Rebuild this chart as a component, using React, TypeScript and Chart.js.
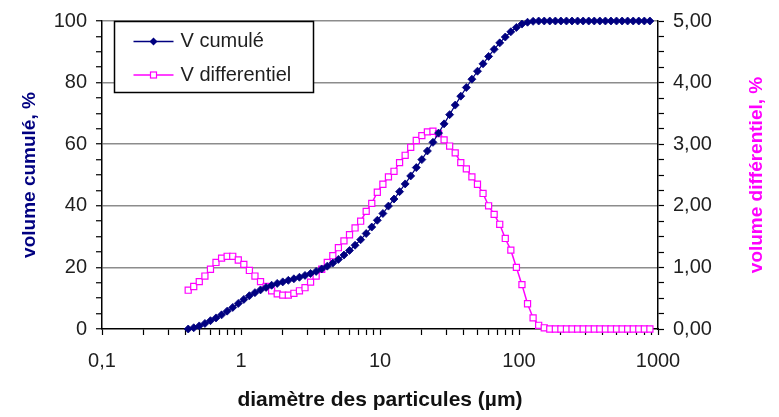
import { useEffect, useRef } from 'react';
import { Chart, registerables } from 'chart.js';

Chart.register(...registerables);

// particle diameters (µm)
const sizes = [
  0.417, 0.457, 0.501, 0.55, 0.603, 0.661, 0.725, 0.795, 0.872, 0.956,
  1.048, 1.149, 1.26, 1.382, 1.515, 1.661, 1.822, 1.997, 2.19, 2.402,
  2.633, 2.888, 3.166, 3.472, 3.807, 4.175, 4.577, 5.019, 5.504, 6.035,
  6.617, 7.256, 7.956, 8.724, 9.566, 10.49, 11.5, 12.61, 13.83, 15.17,
  16.63, 18.24, 20.0, 21.93, 24.04, 26.37, 28.91, 31.7, 34.76, 38.12,
  41.8, 45.83, 50.26, 55.11, 60.43, 66.26, 72.66, 79.67, 87.36, 95.79,
  105.0, 115.2, 126.3, 138.5, 151.9, 166.5, 182.6, 200.2, 219.5, 240.7,
  264.0, 289.4, 317.4, 348.0, 381.6, 418.4, 458.8, 503.1, 551.7, 604.9,
  663.3, 727.3, 797.5, 874.5,
];

// V cumulé (%)
const cumulative = [
  0, 0.4, 1.0, 1.8, 2.7, 3.6, 4.6, 5.8, 7.0, 8.3,
  9.6, 10.8, 11.8, 12.7, 13.5, 14.2, 14.8, 15.3, 15.8, 16.3,
  16.8, 17.4, 18.0, 18.7, 19.5, 20.4, 21.4, 22.6, 24.0, 25.5,
  27.2, 29.0, 31.0, 33.1, 35.3, 37.5, 39.9, 42.2, 44.6, 47.1,
  49.7, 52.4, 55.0, 57.8, 60.6, 63.6, 66.6, 69.6, 72.7, 75.6,
  78.4, 81.1, 83.7, 86.1, 88.5, 90.8, 92.9, 94.8, 96.5, 97.9,
  99.0, 99.6, 99.9, 100, 100, 100, 100, 100, 100, 100,
  100, 100, 100, 100, 100, 100, 100, 100, 100, 100,
  100, 100, 100, 100,
];

// V differentiel (%)
const differential = [
  0.63, 0.69, 0.77, 0.86, 0.97, 1.08, 1.15, 1.18, 1.18, 1.12,
  1.05, 0.95, 0.86, 0.77, 0.69, 0.62, 0.57, 0.55, 0.55, 0.58,
  0.62, 0.67, 0.76, 0.86, 0.97, 1.08, 1.19, 1.32, 1.43, 1.53,
  1.64, 1.75, 1.91, 2.04, 2.22, 2.35, 2.47, 2.56, 2.7, 2.82,
  2.95, 3.06, 3.14, 3.2, 3.21, 3.17, 3.07, 2.97, 2.86, 2.7,
  2.6, 2.47, 2.35, 2.2, 2.0, 1.86, 1.7, 1.47, 1.28, 1.0,
  0.72, 0.41, 0.18, 0.06, 0.02, 0, 0, 0, 0, 0,
  0, 0, 0, 0, 0, 0, 0, 0, 0, 0,
  0, 0, 0, 0,
];

const decadeValues = [0.1, 1, 10, 100, 1000];
const decadeLabels = ['0,1', '1', '10', '100', '1000'];
const seriesNames = ['V cumulé', 'V differentiel'];
const rightTitle = 'volume différentiel, %';

const NAVY = '#000080';
const MAGENTA = '#ff00ff';
const FONT = '"Liberation Sans", Arial, sans-serif';
const TICK_COLOR = '#1f1f1f';

function buildLogTicks() {
  const out: { value: number; major: boolean }[] = [];
  for (let d = 0; d < decadeValues.length - 1; d++) {
    for (let m = 1; m <= 9; m++) {
      out.push({ value: Number((decadeValues[d] * m).toPrecision(6)), major: m === 1 });
    }
  }
  out.push({ value: decadeValues[decadeValues.length - 1], major: true });
  return out;
}

function decadeLabel(v: number) {
  for (let i = 0; i < decadeValues.length; i++) {
    if (Math.abs(v - decadeValues[i]) < 1e-9 * Math.max(1, decadeValues[i])) return decadeLabels[i];
  }
  return '';
}

const legendPlugin = {
  id: 'boxLegend',
  afterDraw(chart: any) {
    const { ctx, chartArea } = chart;
    const bx = chartArea.left + 12.5;
    const by = chartArea.top + 0.5;
    const bw = 199;
    const bh = 71;
    ctx.save();
    ctx.fillStyle = '#ffffff';
    ctx.fillRect(bx, by, bw, bh);
    ctx.strokeStyle = '#000';
    ctx.lineWidth = 1.5;
    ctx.strokeRect(bx, by, bw, bh);

    const rows = [
      { y: by + 20, color: NAVY, kind: 'diamond', text: seriesNames[0] },
      { y: by + 53.5, color: MAGENTA, kind: 'square', text: seriesNames[1] },
    ];
    rows.forEach((r) => {
      const lx0 = bx + 19;
      const lx1 = bx + 59;
      const mx = bx + 39;
      ctx.strokeStyle = r.color;
      ctx.lineWidth = 1.5;
      ctx.beginPath();
      ctx.moveTo(lx0, r.y);
      ctx.lineTo(lx1, r.y);
      ctx.stroke();
      if (r.kind === 'diamond') {
        ctx.fillStyle = r.color;
        ctx.beginPath();
        ctx.moveTo(mx, r.y - 4);
        ctx.lineTo(mx + 4, r.y);
        ctx.lineTo(mx, r.y + 4);
        ctx.lineTo(mx - 4, r.y);
        ctx.closePath();
        ctx.fill();
      } else {
        ctx.fillStyle = '#fff';
        ctx.fillRect(mx - 3, r.y - 3, 6, 6);
        ctx.lineWidth = 1.2;
        ctx.strokeRect(mx - 3, r.y - 3, 6, 6);
      }
      ctx.fillStyle = TICK_COLOR;
      ctx.font = `20px ${FONT}`;
      ctx.textBaseline = 'middle';
      ctx.textAlign = 'left';
      ctx.fillText(r.text, bx + 66, r.y);
    });

    // right axis title, reading bottom-to-top like the left one
    const yScale = chart.scales.y1;
    const cx = yScale.right - 22;
    const cy = (chartArea.top + chartArea.bottom) / 2;
    ctx.translate(cx, cy);
    ctx.rotate(-Math.PI / 2);
    ctx.fillStyle = MAGENTA;
    ctx.font = `bold 19px ${FONT}`;
    ctx.textAlign = 'center';
    ctx.textBaseline = 'middle';
    ctx.fillText(rightTitle, 0, 0);
    ctx.restore();
  },
};

export default function App() {
  const canvasRef = useRef<HTMLCanvasElement | null>(null);

  useEffect(() => {
    document.body.style.margin = '0';
    const canvas = canvasRef.current;
    if (!canvas) return;

    const chart = new Chart(canvas, {
      type: 'line',
      data: {
        datasets: [
          {
            label: seriesNames[0],
            data: sizes.map((s, i) => ({ x: s, y: cumulative[i] })),
            yAxisID: 'y',
            borderColor: NAVY,
            backgroundColor: NAVY,
            borderWidth: 1.2,
            pointStyle: 'rectRot',
            pointRadius: 4,
            pointBackgroundColor: NAVY,
            pointBorderColor: NAVY,
            pointBorderWidth: 0.8,
            tension: 0,
            clip: 8,
          },
          {
            label: seriesNames[1],
            data: sizes.map((s, i) => ({ x: s, y: differential[i] })),
            yAxisID: 'y1',
            borderColor: MAGENTA,
            backgroundColor: '#ffffff',
            borderWidth: 1.5,
            pointStyle: 'rect',
            pointRadius: 4.3,
            pointBackgroundColor: '#ffffff',
            pointBorderColor: MAGENTA,
            pointBorderWidth: 1.2,
            tension: 0,
            clip: 8,
          },
        ],
      },
      options: {
        responsive: false,
        animation: false,
        events: [],
        layout: { padding: { top: 19, left: 0, right: 0, bottom: 0 } },
        plugins: {
          legend: { display: false },
          tooltip: { enabled: false },
        },
        scales: {
          x: {
            type: 'logarithmic',
            position: 'bottom',
            min: 0.1,
            max: 1000,
            afterBuildTicks: (scale: any) => {
              scale.ticks = buildLogTicks();
            },
            afterFit: (scale: any) => {
              scale.height = 88;
            },
            ticks: {
              autoSkip: false,
              maxRotation: 0,
              minRotation: 0,
              padding: 14,
              color: TICK_COLOR,
              font: { size: 20, family: FONT },
              callback: (v: any) => decadeLabel(Number(v)),
            },
            grid: {
              drawOnChartArea: false,
              drawTicks: true,
              tickLength: 6,
              tickColor: '#000',
              tickWidth: 1.2,
            },
            border: { display: true, color: '#000', width: 1.5 },
            title: {
              display: true,
              text: 'diamètre des particules (µm)',
              color: '#111',
              font: { size: 21, weight: 'bold', family: FONT },
              padding: { top: 0, bottom: 4 },
            },
          },
          y: {
            type: 'linear',
            position: 'left',
            min: 0,
            max: 100,
            afterFit: (scale: any) => {
              scale.width = 102;
            },
            ticks: {
              stepSize: 5,
              autoSkip: false,
              maxTicksLimit: 100,
              padding: 9,
              color: TICK_COLOR,
              font: { size: 20, family: FONT },
              callback: (v: any) => (Number(v) % 20 === 0 ? String(v) : ''),
            },
            grid: {
              color: (ctx: any) =>
                ctx.tick && ctx.tick.value % 20 === 0 && ctx.tick.value !== 0 ? '#8c8c8c' : 'rgba(0,0,0,0)',
              lineWidth: 1.5,
              tickLength: 6,
              tickColor: '#000',
              tickWidth: 1.2,
            },
            border: { display: true, color: '#000', width: 1.5 },
            title: {
              display: true,
              text: 'volume cumulé, %',
              color: NAVY,
              font: { size: 19, weight: 'bold', family: FONT },
              padding: { top: 18, bottom: 0 },
            },
          },
          y1: {
            type: 'linear',
            position: 'right',
            min: 0,
            max: 5,
            afterFit: (scale: any) => {
              scale.width = 121;
            },
            ticks: {
              stepSize: 0.25,
              autoSkip: false,
              maxTicksLimit: 100,
              padding: 9,
              color: TICK_COLOR,
              font: { size: 20, family: FONT },
              callback: (v: any) => {
                const n = Number(v);
                return Math.abs(n - Math.round(n)) < 1e-9 ? n.toFixed(2).replace('.', ',') : '';
              },
            },
            grid: {
              drawOnChartArea: false,
              tickLength: 6,
              tickColor: '#000',
              tickWidth: 1.2,
            },
            border: { display: true, color: '#000', width: 1.5 },
            title: { display: false },
          },
        },
      },
      plugins: [legendPlugin],
    } as any);

    return () => {
      chart.destroy();
    };
  }, []);

  return (
    <div style={{ width: 779, height: 417 }}>
      <canvas ref={canvasRef} width={779} height={417} style={{ display: 'block' }} />
    </div>
  );
}
